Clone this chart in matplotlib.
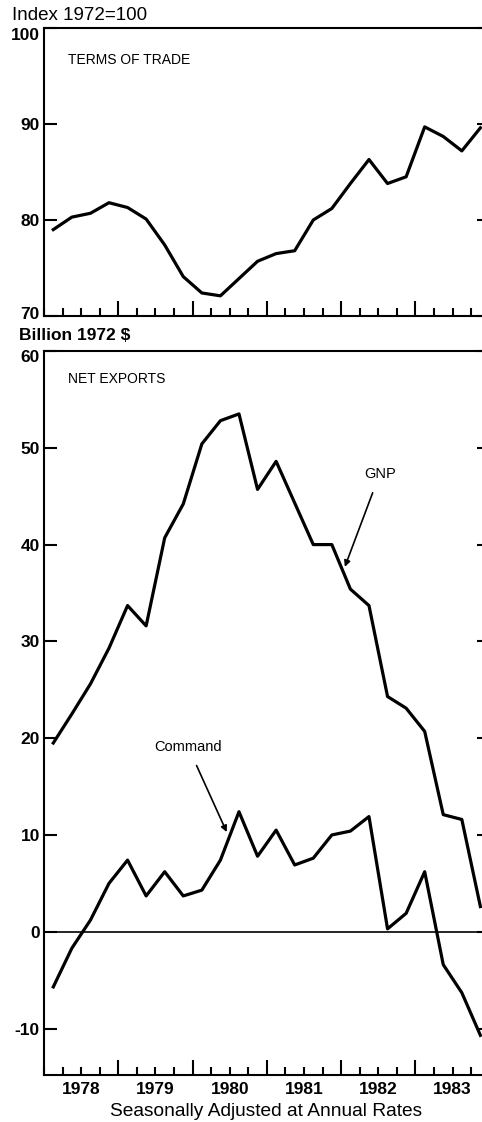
import matplotlib
matplotlib.use("Agg")
import matplotlib.pyplot as plt
import matplotlib.transforms as mtransforms
from matplotlib.ticker import MultipleLocator, FixedLocator
import numpy as np

plt.rcParams['font.family'] = ['Liberation Sans', 'DejaVu Sans']

# ---------------- data ----------------
years = [1978, 1979, 1980, 1981, 1982, 1983]
quarters = [f"{y}Q{q}" for y in years for q in (1, 2, 3, 4)]

terms_of_trade = [79.0, 80.3, 80.7, 81.8, 81.3, 80.1, 77.4, 74.1, 72.4, 72.1,
                  73.9, 75.7, 76.5, 76.8, 80.0, 81.2, 83.8, 86.3, 83.8, 84.5,
                  89.7, 88.7, 87.2, 89.6]

gnp_net_exports = [19.5, 22.5, 25.6, 29.3, 33.7, 31.6, 40.7, 44.2, 50.4, 52.8,
                   53.5, 45.7, 48.6, 44.3, 40.0, 40.0, 35.4, 33.7, 24.3, 23.1,
                   20.7, 12.1, 11.6, 2.6]

command_net_exports = [-5.7, -1.7, 1.2, 5.0, 7.4, 3.7, 6.2, 3.7, 4.3, 7.4,
                       12.4, 7.8, 10.5, 6.9, 7.6, 10.0, 10.4, 11.9, 0.3, 1.9,
                       6.2, -3.4, -6.3, -10.7]

top_yticks = [70, 80, 90, 100]
bot_yticks = [-10, 0, 10, 20, 30, 40, 50, 60]
year_labels = [str(y) for y in years]

# quarter midpoints as x positions
x = np.array([int(s[:4]) + (int(s[-1]) - 0.5) / 4 for s in quarters])

# ---------------- figure ----------------
W, H = 482, 1122
fig = plt.figure(figsize=(W / 100, H / 100), dpi=100)

def fx(px):
    return px / W

def fy(py):
    return 1 - py / H

left_px, right_px = 44, 483
ax1 = fig.add_axes([fx(left_px), fy(316), fx(right_px - left_px), (316 - 28) / H])
ax2 = fig.add_axes([fx(left_px), fy(1075), fx(right_px - left_px), (1075 - 351) / H])

xmin, xmax = 1978.0, 1978.0 + (right_px - left_px) / 74.28
LW = 2.3
tick_font = dict(fontsize=12.5, fontweight='bold')

for ax, yt, ylim in ((ax1, top_yticks, (70, 100)), (ax2, bot_yticks, (-14.8, 60))):
    ax.set_xlim(xmin, xmax)
    ax.set_ylim(*ylim)
    for s in ('left', 'bottom', 'top'):
        ax.spines[s].set_linewidth(1.5)
    ax.spines['right'].set_visible(False)
    ax.xaxis.set_major_locator(FixedLocator(years[1:] + [1984]))
    ax.xaxis.set_minor_locator(MultipleLocator(0.25))
    ax.tick_params(axis='x', which='major', direction='in', length=11, width=1.5,
                   labelbottom=False, bottom=True, top=False)
    ax.tick_params(axis='x', which='minor', direction='in', length=5.5, width=1.5,
                   bottom=True, top=False)
    ax.set_yticks(yt)
    ax.set_yticklabels([str(v) for v in yt], **tick_font)
    ax.tick_params(axis='y', which='major', direction='in', length=9.5, width=1.5,
                   pad=3, left=True, right=False)
    sec = ax.secondary_yaxis('right')
    sec.set_yticks(yt)
    sec.tick_params(direction='in', length=4, width=1.5, labelright=False)
    sec.spines['right'].set_visible(False)

# nudge the end tick labels like the original (top labels sit just below the frame)
def nudge(label, dy_px):
    label.set_transform(label.get_transform() +
                        mtransforms.ScaledTranslation(0, dy_px / 100, fig.dpi_scale_trans))

nudge(ax1.get_yticklabels()[-1], -6)
nudge(ax1.get_yticklabels()[0], 3)
nudge(ax2.get_yticklabels()[-1], -5)

narrow = ['Liberation Sans Narrow', 'DejaVu Sans Condensed', 'Liberation Sans']

# top panel
ax1.plot(x, terms_of_trade, color='black', lw=LW, solid_joinstyle='round')
ax1.text(0.055, 0.89, "TERMS OF TRADE", transform=ax1.transAxes, fontsize=10,
         family=narrow, va='center', ha='left')

# bottom panel
ax2.axhline(0, color='black', lw=1.2)
ax2.plot(x, gnp_net_exports, color='black', lw=LW, solid_joinstyle='round')
ax2.plot(x, command_net_exports, color='black', lw=LW, solid_joinstyle='round')
ax2.text(0.055, 0.962, "NET EXPORTS", transform=ax2.transAxes, fontsize=10,
         family=narrow, va='center', ha='left')

ax2.annotate("GNP", xy=(1982.05, 37.7), xytext=(1982.52, 47.3),
             fontsize=10.5, family=narrow, ha='center', va='center',
             arrowprops=dict(arrowstyle='-|>', color='black', lw=1.2,
                             shrinkA=7, shrinkB=0, mutation_scale=9))
ax2.annotate("Command", xy=(1980.46, 10.3), xytext=(1979.94, 19.1),
             fontsize=10.5, family=narrow, ha='center', va='center',
             arrowprops=dict(arrowstyle='-|>', color='black', lw=1.2,
                             shrinkA=7, shrinkB=0, mutation_scale=9))

# year labels centred on each year
blend = mtransforms.blended_transform_factory(ax2.transData, fig.transFigure)
for y, lab in zip(years, year_labels):
    ax2.text(y + 0.5, fy(1090), lab, transform=blend,
             ha='center', va='center', fontsize=12.5, fontweight='bold')

fig.text(fx(266), fy(1112), "Seasonally Adjusted at Annual Rates", ha='center',
         va='center', fontsize=13.8)
fig.text(fx(12), fy(20), "Index 1972=100", ha='left', va='baseline', fontsize=13.5)
fig.text(fx(19), fy(336), "Billion 1972 $", ha='left', va='center', fontsize=12.5,
         fontweight='bold')

fig.savefig("out.png", dpi=100)
